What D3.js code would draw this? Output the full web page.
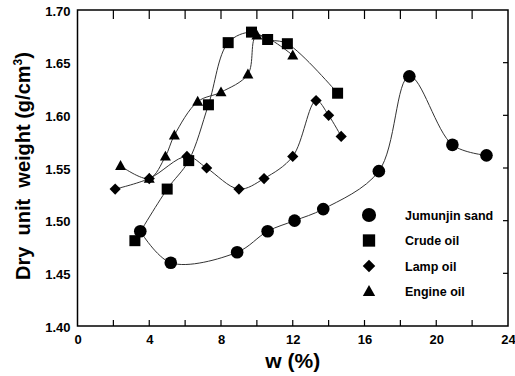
<!DOCTYPE html>
<html>
<head>
<meta charset="utf-8">
<script src="https://cdn.jsdelivr.net/npm/d3@7"></script>
<style>
  body { margin: 0; background: #fff; }
  svg { display: block; font-family: Arial, "Liberation Sans", sans-serif; }
  .tick text { font-weight: bold; font-size: 13px; fill: #000; }
</style>
</head>
<body>
<svg id="chart" width="515" height="376"></svg>
<script>
// Jumunjin sand (circles)
const sandW = [3.5, 5.2, 8.9, 10.6, 12.1, 13.7, 16.8, 18.5, 20.9, 22.8];
const sandD = [1.490, 1.460, 1.470, 1.490, 1.500, 1.511, 1.547, 1.637, 1.572, 1.562];
// Crude oil (squares)
const crudeW = [3.2, 5.0, 6.2, 7.3, 8.4, 9.7, 10.6, 11.7, 14.5];
const crudeD = [1.481, 1.530, 1.557, 1.610, 1.669, 1.679, 1.672, 1.668, 1.621];
// Lamp oil (diamonds)
const lampW = [2.1, 4.0, 6.1, 7.2, 9.0, 10.4, 12.0, 13.3, 14.0, 14.7];
const lampD = [1.530, 1.540, 1.561, 1.550, 1.530, 1.540, 1.561, 1.614, 1.600, 1.580];
// Engine oil (triangles)
const engineW = [2.4, 4.0, 4.9, 5.4, 6.7, 8.0, 9.5, 10.0, 12.0];
const engineD = [1.552, 1.540, 1.561, 1.581, 1.613, 1.622, 1.639, 1.676, 1.657];

const seriesNames = ["Jumunjin sand", "Crude oil", "Lamp oil", "Engine oil"];
const xTicks = [0, 4, 8, 12, 16, 20, 24];
const yTicks = [1.40, 1.45, 1.50, 1.55, 1.60, 1.65, 1.70];

const margin = {top: 10, right: 7, bottom: 50, left: 77.5};
const width = 515, height = 376;

const svg = d3.select("#chart");

const x = d3.scaleLinear().domain([0, 24]).range([margin.left, width - margin.right]);
const y = d3.scaleLinear().domain([1.40, 1.70]).range([height - margin.bottom, margin.top]);

// Axes (labels only, ticks drawn inward below)
svg.append("g")
    .attr("transform", `translate(0,${y(1.40)})`)
    .call(d3.axisBottom(x).tickValues(xTicks).tickSize(0).tickPadding(9).tickFormat(d3.format("d")))
    .call(g => g.select(".domain").remove());

svg.append("g")
    .attr("transform", `translate(${x(0)},0)`)
    .call(d3.axisLeft(y).tickValues(yTicks).tickSize(0).tickPadding(7).tickFormat(d3.format(".2f")))
    .call(g => g.select(".domain").remove())
    .selectAll("text").attr("dy", "0.4em");

// Inward ticks
const minorX = d3.range(2, 24, 2);
svg.append("g").selectAll("line")
    .data(minorX).join("line")
    .attr("x1", d => x(d)).attr("x2", d => x(d))
    .attr("y1", y(1.40)).attr("y2", y(1.40) - 6)
    .attr("stroke", "#000").attr("stroke-width", 1.2);
svg.append("g").selectAll("line")
    .data(minorX).join("line")
    .attr("x1", d => x(d)).attr("x2", d => x(d))
    .attr("y1", y(1.70)).attr("y2", y(1.70) + 9)
    .attr("stroke", "#000").attr("stroke-width", 1.2);
svg.append("g").selectAll("line")
    .data(yTicks.slice(1, -1)).join("line")
    .attr("x1", x(24)).attr("x2", x(24) - 5)
    .attr("y1", d => y(d)).attr("y2", d => y(d))
    .attr("stroke", "#000").attr("stroke-width", 1.2);

// Frame
svg.append("rect")
    .attr("x", x(0)).attr("y", y(1.70))
    .attr("width", x(24) - x(0)).attr("height", y(1.40) - y(1.70))
    .attr("fill", "none").attr("stroke", "#000").attr("stroke-width", 1.5);

// Titles
svg.append("text")
    .attr("x", (x(0) + x(24)) / 2).attr("y", 368)
    .attr("text-anchor", "middle")
    .attr("font-weight", "bold").attr("font-size", 21)
    .text("w (%)");

const yTitle = svg.append("text")
    .attr("transform", `translate(30,166) rotate(-90)`)
    .attr("text-anchor", "middle")
    .attr("font-weight", "bold").attr("font-size", 20);
yTitle.append("tspan").text("Dry\u00a0 unit\u00a0 weight (g/cm");
yTitle.append("tspan").attr("dy", -8).attr("font-size", 12).text("3");
yTitle.append("tspan").attr("dy", 8).text(")");

// Series
const series = [
    {w: sandW, d: sandD, shape: "circle"},
    {w: crudeW, d: crudeD, shape: "square"},
    {w: lampW, d: lampD, shape: "diamond"},
    {w: engineW, d: engineD, shape: "triangle"}
];

const line = d3.line()
    .x(p => x(p[0])).y(p => y(p[1]))
    .curve(d3.curveCatmullRom.alpha(0.5));

series.forEach(s => {
    const pts = s.w.map((w, i) => [w, s.d[i]]);
    svg.append("path")
        .datum(pts)
        .attr("d", line)
        .attr("fill", "none")
        .attr("stroke", "#333")
        .attr("stroke-width", 1);
});

function marker(g, shape, cx, cy, scale) {
    const k = scale || 1;
    if (shape === "circle") {
        g.append("circle").attr("cx", cx).attr("cy", cy).attr("r", 6.3 * k).attr("fill", "#000");
    } else if (shape === "square") {
        const s = 11 * k;
        g.append("rect").attr("x", cx - s / 2).attr("y", cy - s / 2).attr("width", s).attr("height", s).attr("fill", "#000");
    } else if (shape === "diamond") {
        const r = 5.6 * k;
        g.append("path").attr("d", `M${cx},${cy - r}L${cx + r},${cy}L${cx},${cy + r}L${cx - r},${cy}Z`).attr("fill", "#000");
    } else {
        const r = 5.5 * k;
        g.append("path").attr("d", `M${cx},${cy - r * 1.05}L${cx + r},${cy + r * 0.75}L${cx - r},${cy + r * 0.75}Z`).attr("fill", "#000");
    }
}

const marks = svg.append("g");
series.forEach(s => {
    s.w.forEach((w, i) => marker(marks, s.shape, x(w), y(s.d[i])));
});

// Legend
const legend = svg.append("g");
seriesNames.forEach((name, i) => {
    const ly = 215 + i * 25.5;
    marker(legend, series[i].shape, 369, ly, 1.12);
    legend.append("text")
        .attr("x", 405).attr("y", ly + 4.5)
        .attr("font-weight", "bold").attr("font-size", 12.5)
        .text(name);
});
</script>
</body>
</html>
